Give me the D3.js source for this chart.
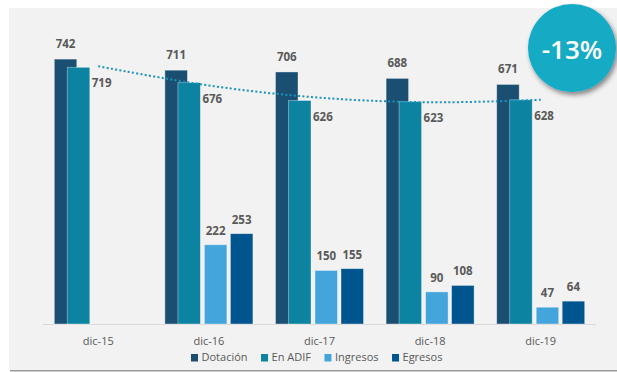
<!DOCTYPE html>
<html>
<head>
<meta charset="utf-8">
<script src="https://cdn.jsdelivr.net/npm/d3@7"></script>
<style>
  body { margin: 0; background: #fff; }
  text { font-family: "Open Sans", "Noto Sans", sans-serif; }
</style>
</head>
<body>
<div id="chart"></div>
<script>
// datos
var categorias = ["dic-15", "dic-16", "dic-17", "dic-18", "dic-19"];
var dotacion = [742, 711, 706, 688, 671];
var enAdif = [719, 676, 626, 623, 628];
var ingresos = [null, 222, 150, 90, 47];
var egresos = [null, 253, 155, 108, 64];
// linea de tendencia (polinomica) tal como se ve
var tendencia = [722, 668, 634, 621, 628];
var variacion = "-13%";

var W = 617, H = 372;
var baseY = 324;

var svg = d3.select("#chart").append("svg")
    .attr("width", W)
    .attr("height", H);

var defs = svg.append("defs");
var f = defs.append("filter").attr("id", "sombra")
    .attr("x", "-30%").attr("y", "-30%").attr("width", "160%").attr("height", "160%");
f.append("feDropShadow").attr("dx", 2).attr("dy", 3)
    .attr("stdDeviation", 2.5).attr("flood-color", "#000").attr("flood-opacity", 0.45);

// fondo del panel
svg.append("rect").attr("x", 10).attr("y", 369).attr("width", W - 10).attr("height", 2.5)
    .attr("fill", "#9a9a9a");
svg.append("rect").attr("x", 9).attr("y", 8).attr("width", W - 9).attr("height", 362)
    .attr("fill", "#f2f2f2");

var x0 = d3.scaleBand().domain(categorias).range([43, 596]).padding(0);
var y = d3.scaleLinear().domain([0, 800]).range([baseY, baseY - 800 * 0.357]);

function centro(c) { return x0(c) + x0.bandwidth() / 2; }

var series = [
    {nombre: "Dotación", valores: dotacion, color: "#1b4f72", dx: -44},
    {nombre: "En ADIF", valores: enAdif, color: "#0b83a1", dx: -31},
    {nombre: "Ingresos", valores: ingresos, color: "#44a5dc", dx: -4.5},
    {nombre: "Egresos", valores: egresos, color: "#00558f", dx: 21.5}
];
var anchoBarra = 22.5;

// eje
svg.append("line")
    .attr("x1", 43).attr("x2", 596)
    .attr("y1", baseY + 0.5).attr("y2", baseY + 0.5)
    .attr("stroke", "#d9d9d9");

series.forEach(function (s) {
    var datos = categorias.map(function (c, i) { return {c: c, v: s.valores[i]}; })
        .filter(function (d) { return d.v != null; });
    svg.append("g").selectAll("rect")
        .data(datos)
        .enter().append("rect")
        .attr("x", function (d) { return centro(d.c) + s.dx; })
        .attr("y", function (d) { return y(d.v); })
        .attr("width", anchoBarra)
        .attr("height", function (d) { return baseY - y(d.v); })
        .attr("fill", s.color)
        .attr("stroke", "rgba(255,255,255,0.45)")
        .attr("stroke-width", 0.8);
});

// tendencia punteada
var linea = d3.line()
    .x(function (d, i) { return centro(categorias[i]); })
    .y(function (d) { return y(d); })
    .curve(d3.curveCatmullRom);
svg.append("path")
    .attr("d", linea(tendencia))
    .attr("fill", "none")
    .attr("stroke", "#1a93b8")
    .attr("stroke-width", 2)
    .attr("stroke-dasharray", "2,2.3");

// etiquetas
var etq = svg.append("g")
    .attr("fill", "#595959")
    .attr("font-size", "11.5px")
    .attr("font-weight", "bold");

categorias.forEach(function (c, i) {
    var cx = centro(c);
    etq.append("text")
        .attr("x", cx + series[0].dx + anchoBarra / 2)
        .attr("y", y(dotacion[i]) - 11)
        .attr("text-anchor", "middle")
        .text(dotacion[i]);
    etq.append("text")
        .attr("x", cx + series[1].dx + anchoBarra + 2)
        .attr("y", y(enAdif[i]) + 16)
        .attr("dy", "0.35em")
        .text(enAdif[i]);
    [2, 3].forEach(function (k) {
        var v = series[k].valores[i];
        if (v == null) return;
        etq.append("text")
            .attr("x", cx + series[k].dx + anchoBarra / 2)
            .attr("y", y(v) - 10)
            .attr("text-anchor", "middle")
            .text(v);
    });
});

// categorias
svg.append("g").selectAll("text")
    .data(categorias)
    .enter().append("text")
    .attr("x", function (d) { return centro(d); })
    .attr("y", 341)
    .attr("dy", "0.35em")
    .attr("text-anchor", "middle")
    .attr("font-size", "11px")
    .attr("fill", "#595959")
    .text(function (d) { return d; });

// leyenda
var ley = svg.append("g");
var lx = 191;
series.forEach(function (s) {
    ley.append("rect")
        .attr("x", lx).attr("y", 354)
        .attr("width", 7).attr("height", 7.5)
        .attr("fill", s.color);
    var t = ley.append("text")
        .attr("x", lx + 10.5)
        .attr("y", 357.5)
        .attr("dy", "0.35em")
        .attr("font-size", "11px")
        .attr("fill", "#595959")
        .text(s.nombre);
    lx += 10.5 + t.node().getComputedTextLength() + 13.5;
});

// circulo de variacion
svg.append("circle")
    .attr("cx", 572).attr("cy", 48).attr("r", 44)
    .attr("fill", "#13abc5")
    .attr("filter", "url(#sombra)");
svg.append("text")
    .attr("x", 572).attr("y", 50)
    .attr("dy", "0.35em")
    .attr("text-anchor", "middle")
    .attr("font-size", "26px")
    .attr("font-weight", 600)
    .attr("fill", "#fff")
    .text(variacion);
</script>
</body>
</html>
